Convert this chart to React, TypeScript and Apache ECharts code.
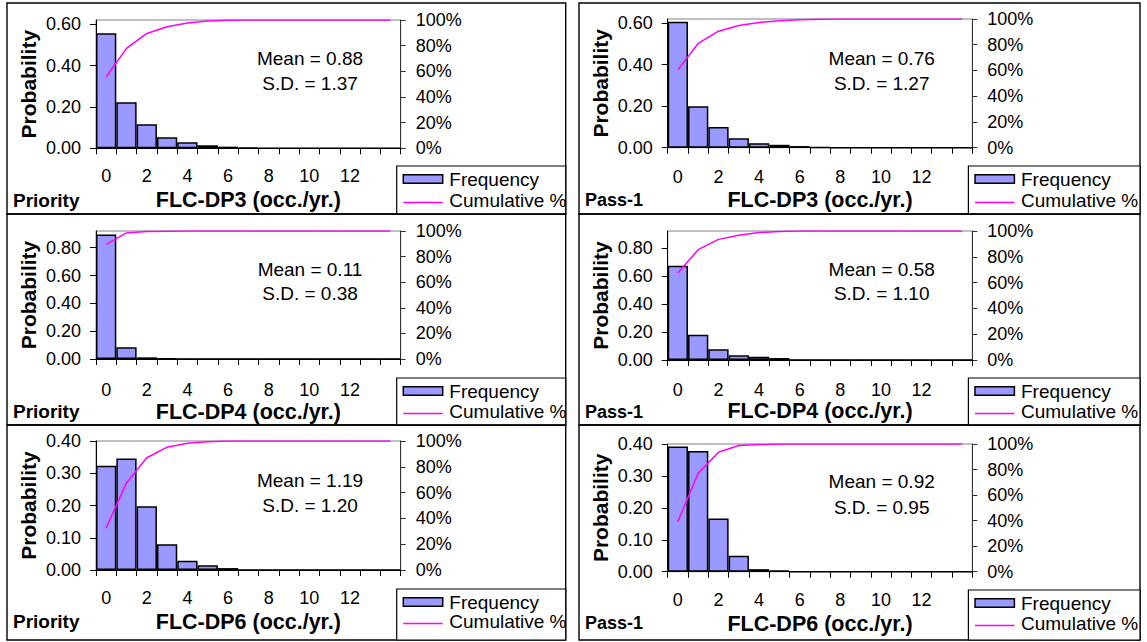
import { useEffect, useRef } from 'react';
import * as echarts from 'echarts';

// ---------- data ----------
const categories = ['0', '1', '2', '3', '4', '5', '6', '7', '8', '9', '10', '11', '12', '13', '14'];

const priorityDp3Freq = [0.556, 0.223, 0.116, 0.053, 0.029, 0.0145, 0.008, 0.004, 0, 0, 0, 0, 0, 0, 0];
const priorityDp3Cum = [55.6, 77.9, 89.5, 94.8, 97.7, 99.2, 99.8, 100, 100, 100, 100, 100, 100, 100, 100];
const pass1Dp3Freq = [0.607, 0.2, 0.1, 0.045, 0.022, 0.014, 0.008, 0.003, 0, 0, 0, 0, 0, 0, 0];
const pass1Dp3Cum = [60.5, 81.0, 90.5, 95.0, 97.3, 98.7, 99.5, 99.8, 100, 100, 100, 100, 100, 100, 100];
const priorityDp4Freq = [0.895, 0.085, 0.012, 0.003, 0.001, 0, 0, 0, 0, 0, 0, 0, 0, 0, 0];
const priorityDp4Cum = [89.5, 98.5, 99.6, 99.9, 100, 100, 100, 100, 100, 100, 100, 100, 100, 100, 100];
const pass1Dp4Freq = [0.672, 0.18, 0.076, 0.033, 0.024, 0.014, 0, 0, 0, 0, 0, 0, 0, 0, 0];
const pass1Dp4Cum = [67.5, 85.5, 93.5, 96.7, 98.8, 99.6, 100, 100, 100, 100, 100, 100, 100, 100, 100];
const priorityDp6Freq = [0.323, 0.346, 0.198, 0.08, 0.029, 0.0145, 0.006, 0, 0, 0, 0, 0, 0, 0, 0];
const priorityDp6Cum = [32.5, 67.5, 87.0, 95.2, 98.2, 99.4, 100, 100, 100, 100, 100, 100, 100, 100, 100];
const pass1Dp6Freq = [0.392, 0.378, 0.167, 0.05, 0.008, 0.004, 0, 0, 0, 0, 0, 0, 0, 0, 0];
const pass1Dp6Cum = [39.2, 77.0, 93.5, 98.8, 99.6, 100, 100, 100, 100, 100, 100, 100, 100, 100, 100];

const probTicksDp3 = [0, 0.2, 0.4, 0.6];
const probTicksDp4 = [0, 0.2, 0.4, 0.6, 0.8];
const probTicksDp6 = [0, 0.1, 0.2, 0.3, 0.4];
const cumTicks = [0, 20, 40, 60, 80, 100];

const groupLabels = ['Priority', 'Pass-1'];
const xTitles = ['FLC-DP3 (occ./yr.)', 'FLC-DP4 (occ./yr.)', 'FLC-DP6 (occ./yr.)'];
const meanTexts = ['Mean = 0.88', 'Mean = 0.76', 'Mean = 0.11', 'Mean = 0.58', 'Mean = 1.19', 'Mean = 0.92'];
const sdTexts = ['S.D. = 1.37', 'S.D. = 1.27', 'S.D. = 0.38', 'S.D. = 1.10', 'S.D. = 1.20', 'S.D. = 0.95'];
const legendNames = ['Frequency', 'Cumulative %'];
const yAxisTitle = 'Probability';

const panels = [
  { freq: priorityDp3Freq, cum: priorityDp3Cum, yMax: 0.62, yTicks: probTicksDp3, group: groupLabels[0], title: xTitles[0], mean: meanTexts[0], sd: sdTexts[0] },
  { freq: pass1Dp3Freq, cum: pass1Dp3Cum, yMax: 0.62, yTicks: probTicksDp3, group: groupLabels[1], title: xTitles[0], mean: meanTexts[1], sd: sdTexts[1] },
  { freq: priorityDp4Freq, cum: priorityDp4Cum, yMax: 0.92, yTicks: probTicksDp4, group: groupLabels[0], title: xTitles[1], mean: meanTexts[2], sd: sdTexts[2] },
  { freq: pass1Dp4Freq, cum: pass1Dp4Cum, yMax: 0.92, yTicks: probTicksDp4, group: groupLabels[1], title: xTitles[1], mean: meanTexts[3], sd: sdTexts[3] },
  { freq: priorityDp6Freq, cum: priorityDp6Cum, yMax: 0.4, yTicks: probTicksDp6, group: groupLabels[0], title: xTitles[2], mean: meanTexts[4], sd: sdTexts[4] },
  { freq: pass1Dp6Freq, cum: pass1Dp6Cum, yMax: 0.4, yTicks: probTicksDp6, group: groupLabels[1], title: xTitles[2], mean: meanTexts[5], sd: sdTexts[5] },
];

// ---------- layout ----------
const layout = [
  { gl: 96, gt: 20, gw: 304.7, gh: 128.3, bx: 7, by: 3, bw: 558.7, bh: 211, legTop: 166, freqY: 179, cumY: 200, labY: 175.5, titleY: 199.3, groupY: 200, meanY: 58.3, sdY: 83.3 },
  { gl: 667.7, gt: 19, gw: 304.6, gh: 128.7, bx: 579, by: 3, bw: 561, bh: 211, legTop: 166, freqY: 179, cumY: 200, labY: 176.7, titleY: 200, groupY: 200, meanY: 58.3, sdY: 83.3 },
  { gl: 96, gt: 231, gw: 304.7, gh: 128, bx: 7, by: 214, bw: 558.7, bh: 211, legTop: 378, freqY: 391, cumY: 411, labY: 390, titleY: 411.7, groupY: 411.7, meanY: 269.3, sdY: 293.3 },
  { gl: 667.7, gt: 231, gw: 304.6, gh: 129, bx: 579, by: 214, bw: 561, bh: 211, legTop: 378, freqY: 391, cumY: 411, labY: 390, titleY: 410.5, groupY: 411.7, meanY: 269.3, sdY: 293.3 },
  { gl: 96, gt: 441, gw: 304.7, gh: 129, bx: 7, by: 425, bw: 558.7, bh: 215, legTop: 589, freqY: 602, cumY: 621, labY: 598.3, titleY: 621.7, groupY: 621.7, meanY: 480, sdY: 505 },
  { gl: 667.7, gt: 444, gw: 304.6, gh: 127.7, bx: 579, by: 425, bw: 561, bh: 215, legTop: 590, freqY: 603, cumY: 623, labY: 600, titleY: 623.3, groupY: 623.3, meanY: 481.7, sdY: 507.3 },
];

const FONT = 'Arial, "Liberation Sans", Helvetica, sans-serif';
const BAR_FILL = '#9999FF';
const LINE_COLOR = '#FF00FF';
const TICK_FS = 18;
const TITLE_FS = 21.5;
const TEXT_FS = 19;

function buildOption() {
  const grid: any[] = [];
  const xAxis: any[] = [];
  const yAxis: any[] = [];
  const series: any[] = [];
  const graphic: any[] = [];

  panels.forEach((p, i) => {
    const L = layout[i];
    const axisY = L.gt + L.gh;
    const isRight = i % 2 === 1;
    grid.push({
      left: L.gl, top: L.gt, width: L.gw, height: L.gh,
      show: true, borderColor: '#808080', borderWidth: 1, backgroundColor: 'transparent',
    });
    xAxis.push({
      type: 'category', gridIndex: i, data: categories, boundaryGap: true,
      axisLine: { show: true, lineStyle: { color: '#000', width: 1 } },
      axisTick: { show: true, interval: 0, length: 6, lineStyle: { color: '#000' } },
      axisLabel: {
        interval: (idx: number) => idx % 2 === 0 && idx < 14,
        fontFamily: FONT, fontSize: TICK_FS, color: '#000',
        margin: L.labY - TICK_FS / 2 - axisY,
      },
      splitLine: { show: false },
      name: p.title, nameLocation: 'middle',
      nameGap: L.titleY - TITLE_FS / 2 - axisY,
      nameTextStyle: { fontFamily: FONT, fontSize: TITLE_FS, fontWeight: 'bold', color: '#000' },
    });
    yAxis.push({
      type: 'value', gridIndex: i, position: 'left', min: 0, max: p.yMax,
      axisLine: { show: true, lineStyle: { color: '#000', width: 1 } },
      axisTick: { show: true, length: 6, customValues: p.yTicks, lineStyle: { color: '#000' } },
      axisLabel: {
        customValues: p.yTicks,
        formatter: (v: number) => v.toFixed(2),
        fontFamily: FONT, fontSize: TICK_FS, color: '#000', margin: 15,
      },
      splitLine: { show: false },
      name: yAxisTitle, nameLocation: 'middle', nameGap: 57,
      nameTextStyle: { fontFamily: FONT, fontSize: 21, fontWeight: 'bold', color: '#000' },
    });
    yAxis.push({
      type: 'value', gridIndex: i, position: 'right', min: 0, max: 100, interval: 20,
      axisLine: { show: true, lineStyle: { color: '#333', width: 1 } },
      axisTick: { show: true, length: 5, customValues: cumTicks, lineStyle: { color: '#333' } },
      axisLabel: {
        customValues: cumTicks,
        formatter: '{value}%', fontFamily: FONT, fontSize: TICK_FS, color: '#000', margin: 15,
      },
      splitLine: { show: false },
    });
    series.push({
      type: 'bar', name: legendNames[0], xAxisIndex: i, yAxisIndex: 2 * i,
      data: p.freq, barCategoryGap: '0%',
      itemStyle: { color: BAR_FILL, borderColor: '#000', borderWidth: 1.5 },
    });
    series.push({
      type: 'line', name: legendNames[1], xAxisIndex: i, yAxisIndex: 2 * i + 1,
      data: p.cum, symbol: 'none', z: 5,
      lineStyle: { color: LINE_COLOR, width: 1.5 },
    });

    // panel frame
    graphic.push({
      type: 'rect', silent: true,
      shape: { x: L.bx, y: L.by, width: L.bw, height: L.bh },
      style: { fill: 'none', stroke: '#000', lineWidth: 1.4 },
    });
    // legend box
    const lx = L.gl + 300.7;
    const right = L.bx + L.bw;
    graphic.push({
      type: 'rect', silent: true,
      shape: { x: lx, y: L.legTop, width: right - lx, height: L.by + L.bh - L.legTop },
      style: { fill: '#fff', stroke: '#000', lineWidth: 1.2 },
    });
    const sx = lx + 6.6;
    graphic.push({
      type: 'rect', silent: true,
      shape: { x: sx, y: L.freqY - 4.3, width: 39.4, height: 8.6 },
      style: { fill: BAR_FILL, stroke: '#000', lineWidth: 1.5 },
    });
    graphic.push({
      type: 'line', silent: true,
      shape: { x1: sx, y1: L.cumY + 2.5, x2: sx + 39.4, y2: L.cumY + 2.5 },
      style: { stroke: LINE_COLOR, lineWidth: 1.5 },
    });
    graphic.push({
      type: 'text', silent: true, x: sx + 46, y: L.freqY,
      style: { text: legendNames[0], font: `${TEXT_FS}px ${FONT}`, fill: '#000', textAlign: 'left', textVerticalAlign: 'middle' },
    });
    graphic.push({
      type: 'text', silent: true, x: sx + 46, y: L.cumY,
      style: { text: legendNames[1], font: `${TEXT_FS}px ${FONT}`, fill: '#000', textAlign: 'left', textVerticalAlign: 'middle' },
    });
    // group label
    graphic.push({
      type: 'text', silent: true, x: L.bx + 6, y: L.groupY,
      style: { text: p.group, font: `bold ${isRight ? 18 : 19}px ${FONT}`, fill: '#000', textAlign: 'left', textVerticalAlign: 'middle' },
    });
    // stats
    const mx = L.gl + 214;
    graphic.push({
      type: 'text', silent: true, x: mx, y: L.meanY,
      style: { text: p.mean, font: `${TEXT_FS}px ${FONT}`, fill: '#000', textAlign: 'center', textVerticalAlign: 'middle' },
    });
    graphic.push({
      type: 'text', silent: true, x: mx, y: L.sdY,
      style: { text: p.sd, font: `${TEXT_FS}px ${FONT}`, fill: '#000', textAlign: 'center', textVerticalAlign: 'middle' },
    });
  });

  return {
    animation: false,
    backgroundColor: '#fff',
    textStyle: { fontFamily: FONT },
    grid, xAxis, yAxis, series, graphic,
  };
}

export default function App() {
  const ref = useRef<HTMLDivElement>(null);
  useEffect(() => {
    if (!ref.current) return;
    const chart = echarts.init(ref.current, undefined, { renderer: 'svg' });
    chart.setOption(buildOption() as any);
    return () => chart.dispose();
  }, []);
  return (
    <div
      ref={ref}
      style={{ position: 'fixed', left: 0, top: 0, width: 1147, height: 642, background: '#fff' }}
    />
  );
}
